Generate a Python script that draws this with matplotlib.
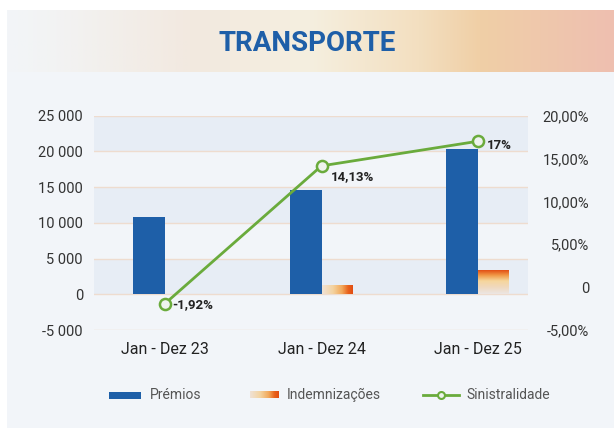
import numpy as np
import matplotlib
matplotlib.use("Agg")
import matplotlib.pyplot as plt
from matplotlib.colors import LinearSegmentedColormap
from matplotlib.patches import Rectangle
from matplotlib.lines import Line2D

plt.rcParams['font.family'] = ['Roboto', 'DejaVu Sans']

# data
categories = ['Jan - Dez 23', 'Jan - Dez 24', 'Jan - Dez 25']
premios = [10800, 14600, 20250]
indemnizacoes = [0, 1150, 3250]
sinistralidade = [-1.92, 14.13, 17.0]   # %
left_ticks = [-5000, 0, 5000, 10000, 15000, 20000, 25000]
right_ticks = [-5, 0, 5, 10, 15, 20]

# styles
blue = '#1e5fa8'
green = '#6aab3c'
grad_dir = ['h', 'h', 'v']
label_offsets = [(5, -1), (7, -8), (6.5, -3)]

W, H = 614, 428
fig = plt.figure(figsize=(W / 100, H / 100), dpi=100, facecolor='white')

# background / card / header, drawn in pixel coords
bg = fig.add_axes([0, 0, 1, 1])
bg.axis('off')
bg.set_zorder(0)
bg.add_patch(Rectangle((7, 10), W - 7, H - 10, color='#f2f5f9', lw=0, zorder=1))
hdr = LinearSegmentedColormap.from_list('hdr', [
    (0, '#f2f5f8'), (0.08, '#f2f3f3'), (0.3, '#f2e9e0'), (0.5, '#f5efdf'),
    (0.68, '#f3dfc0'), (0.78, '#f0cfa6'), (0.88, '#efc8ac'), (1, '#eebfb0')])
bg.imshow(np.linspace(0, 1, 256)[None, :], cmap=hdr, aspect='auto',
          extent=[7, W, 72, 10], zorder=2)
bg.text(307, 43, 'TRANSPORTE', ha='center', va='center', fontsize=20,
        fontweight='bold', color=blue, zorder=3)

# main axes
ax = fig.add_axes([94 / W, 1 - 330 / H, (528 - 94) / W, (330 - 115.5) / H])
ax.set_zorder(1)
ax.patch.set_visible(False)
ax2 = ax.twinx()
ax2.set_zorder(2)
ax2.patch.set_visible(False)

x = np.arange(len(categories))
ppu = 156.5
xlim = (-(165 - 94) / ppu, 2 + (528 - 478) / ppu)
ylim = (-5000, 25000)

for lo in [0, 10000, 20000]:
    ax.axhspan(lo, lo + 5000, color='#e7edf5', lw=0, zorder=0)
for v in left_ticks:
    ax.axhline(v, color='#eedccf', lw=1, zorder=0.5)

ax.bar(x, premios, width=-32 / ppu, align='edge', color=blue, zorder=2)
ind = ax.bar(x, indemnizacoes, width=31 / ppu, align='edge', color='none',
             lw=0, zorder=2)

cm_h = LinearSegmentedColormap.from_list('gh', [
    (0, '#efe2d6'), (0.35, '#f4d3a0'), (0.65, '#f2a85a'), (0.85, '#e8621c'), (1, '#e24d12')])
cm_v = LinearSegmentedColormap.from_list('gv', [
    (0, '#ece6e4'), (0.3, '#f0d8bc'), (0.55, '#f6d69c'), (0.78, '#f19a48'), (1, '#e24e14')])
for rect, d in zip(ind, grad_dir):
    h = rect.get_height()
    if h <= 0:
        continue
    x0, w = rect.get_x(), rect.get_width()
    if d == 'h':
        img, cm = np.linspace(0, 1, 128)[None, :], cm_h
    else:
        img, cm = np.linspace(1, 0, 128)[:, None], cm_v
    ax.imshow(img, cmap=cm, aspect='auto', extent=[x0, x0 + w, 0, h], zorder=2)

ax.set_xlim(*xlim)
ax.set_ylim(*ylim)
ax.set_xticks(x)
ax.set_xticklabels(categories, fontsize=11.5, color='#222222')
ax.set_yticks(left_ticks)
ax.set_yticklabels([f'{v:,}'.replace(',', ' ') for v in left_ticks],
                   fontsize=10.5, color='#333333')
ax.tick_params(axis='x', length=0, pad=9)
ax.tick_params(axis='y', length=0, pad=8)

ax2.plot(x, sinistralidade, color=green, lw=2, marker='o', ms=8,
         mfc='#eef3ee', mec=green, mew=1.8, zorder=3)
for xi, v, off in zip(x, sinistralidade, label_offsets):
    s = f'{v:.2f}'.rstrip('0').rstrip('.').replace('.', ',') + '%'
    ax2.annotate(s, (xi, v), xytext=off, textcoords='offset points',
                 ha='left', va='center', fontsize=9.5, fontweight='bold',
                 color='#222222')
ax2.set_ylim(-5, 20)
ax2.set_yticks(right_ticks)
ax2.set_yticklabels(['0' if v == 0 else f'{v:.2f}%'.replace('.', ',') for v in right_ticks],
                    fontsize=10.5, color='#333333', ha='right')
ax2.tick_params(axis='y', length=0, pad=44)
ax2.set_xlim(*xlim)

for a in (ax, ax2):
    for sp in a.spines.values():
        sp.set_visible(False)

# legend (pixel coords)
ly = 395
bg.add_patch(Rectangle((109, ly - 3.5), 32, 7, color=blue, lw=0, zorder=3))
bg.text(150, ly, 'Prémios', va='center', fontsize=10, color='#555555', zorder=3)
bg.imshow(np.linspace(0, 1, 128)[None, :], cmap=cm_h, aspect='auto',
          extent=[250, 279, ly + 3.5, ly - 3.5], zorder=3)
bg.text(287, ly, 'Indemnizações', va='center', fontsize=10, color='#555555', zorder=3)
bg.add_line(Line2D([423, 459], [ly, ly], color=green, lw=2, zorder=3))
bg.plot([441], [ly], marker='o', ms=5, mfc='#eef3ee', mec=green, mew=1.5, zorder=4)
bg.text(466, ly, 'Sinistralidade', va='center', fontsize=10, color='#555555', zorder=3)
bg.set_xlim(0, W)
bg.set_ylim(H, 0)

fig.savefig('out.png', dpi=100, facecolor='white')
